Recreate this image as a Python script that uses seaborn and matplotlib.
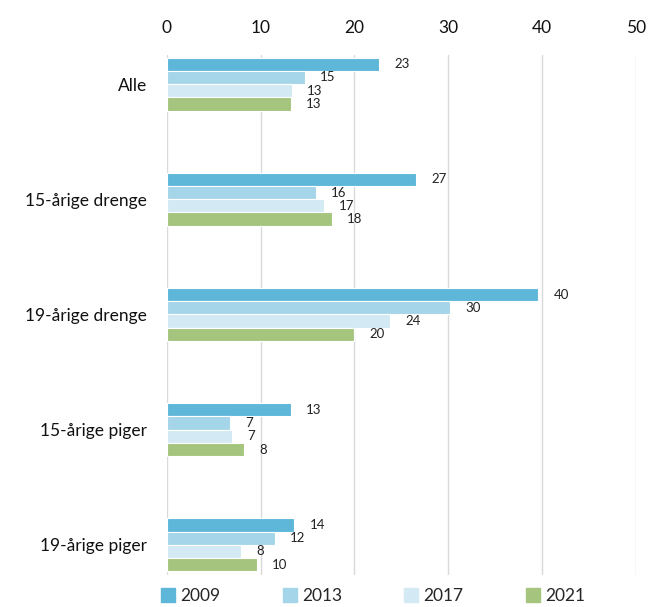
import matplotlib
matplotlib.use("Agg")
import matplotlib.pyplot as plt
import numpy as np
import pandas as pd
import seaborn as sns

categories = ["Alle", "15-årige drenge", "19-årige drenge", "15-årige piger", "19-årige piger"]
years = ["2009", "2013", "2017", "2021"]
v2009 = [22.6, 26.6, 39.6, 13.2, 13.6]
v2013 = [14.7, 15.9, 30.2, 6.7, 11.5]
v2017 = [13.3, 16.7, 23.8, 6.9, 7.9]
v2021 = [13.2, 17.6, 20.0, 8.2, 9.6]
colors = ["#5EB6D9", "#A5D5E8", "#D3EAF4", "#A5C57F"]

rows = []
for yr, vals in zip(years, [v2009, v2013, v2017, v2021]):
    for c, v in zip(categories, vals):
        rows.append({"kategori": c, "aar": yr, "pct": v})
df = pd.DataFrame(rows)

sns.set_style("white")
plt.rcParams["font.family"] = ["Lato", "DejaVu Sans"]

fig = plt.figure(figsize=(6.49, 6.07), dpi=100)
ax = fig.add_axes([0.257, 0.053, 0.723, 0.856])

sns.barplot(data=df, y="kategori", x="pct", hue="aar", orient="h",
            palette=colors, saturation=1, width=0.46, edgecolor="white",
            linewidth=0.8, ax=ax, legend=False, zorder=3)

for cont in ax.containers:
    ax.bar_label(cont, labels=[f"{b.get_width():.0f}" for b in cont],
                 padding=11, fontsize=9.5, color="#222222")

ax.set_xlim(0, 50)
ax.set_ylim(4.26, -0.25)
ax.set_xticks([0, 10, 20, 30, 40, 50])
ax.xaxis.tick_top()
ax.tick_params(axis="x", length=0, labelsize=12.5, pad=14, colors="#111111")
ax.tick_params(axis="y", length=0, labelsize=12.5, pad=14, colors="#111111")
ax.set_xlabel("")
ax.set_ylabel("")
ax.grid(axis="x", color="#D9D9D9", linewidth=1, zorder=0)
for s in ax.spines.values():
    s.set_visible(False)

handles = [plt.Rectangle((0, 0), 1, 1, color=c) for c in colors]
fig.legend(handles, years, loc="center", bbox_to_anchor=(0.575, 0.018), ncol=4,
           frameon=False, fontsize=12.5, handlelength=0.8, handleheight=0.8,
           handletextpad=0.3, columnspacing=3.6)

fig.savefig("out.png", dpi=100)
